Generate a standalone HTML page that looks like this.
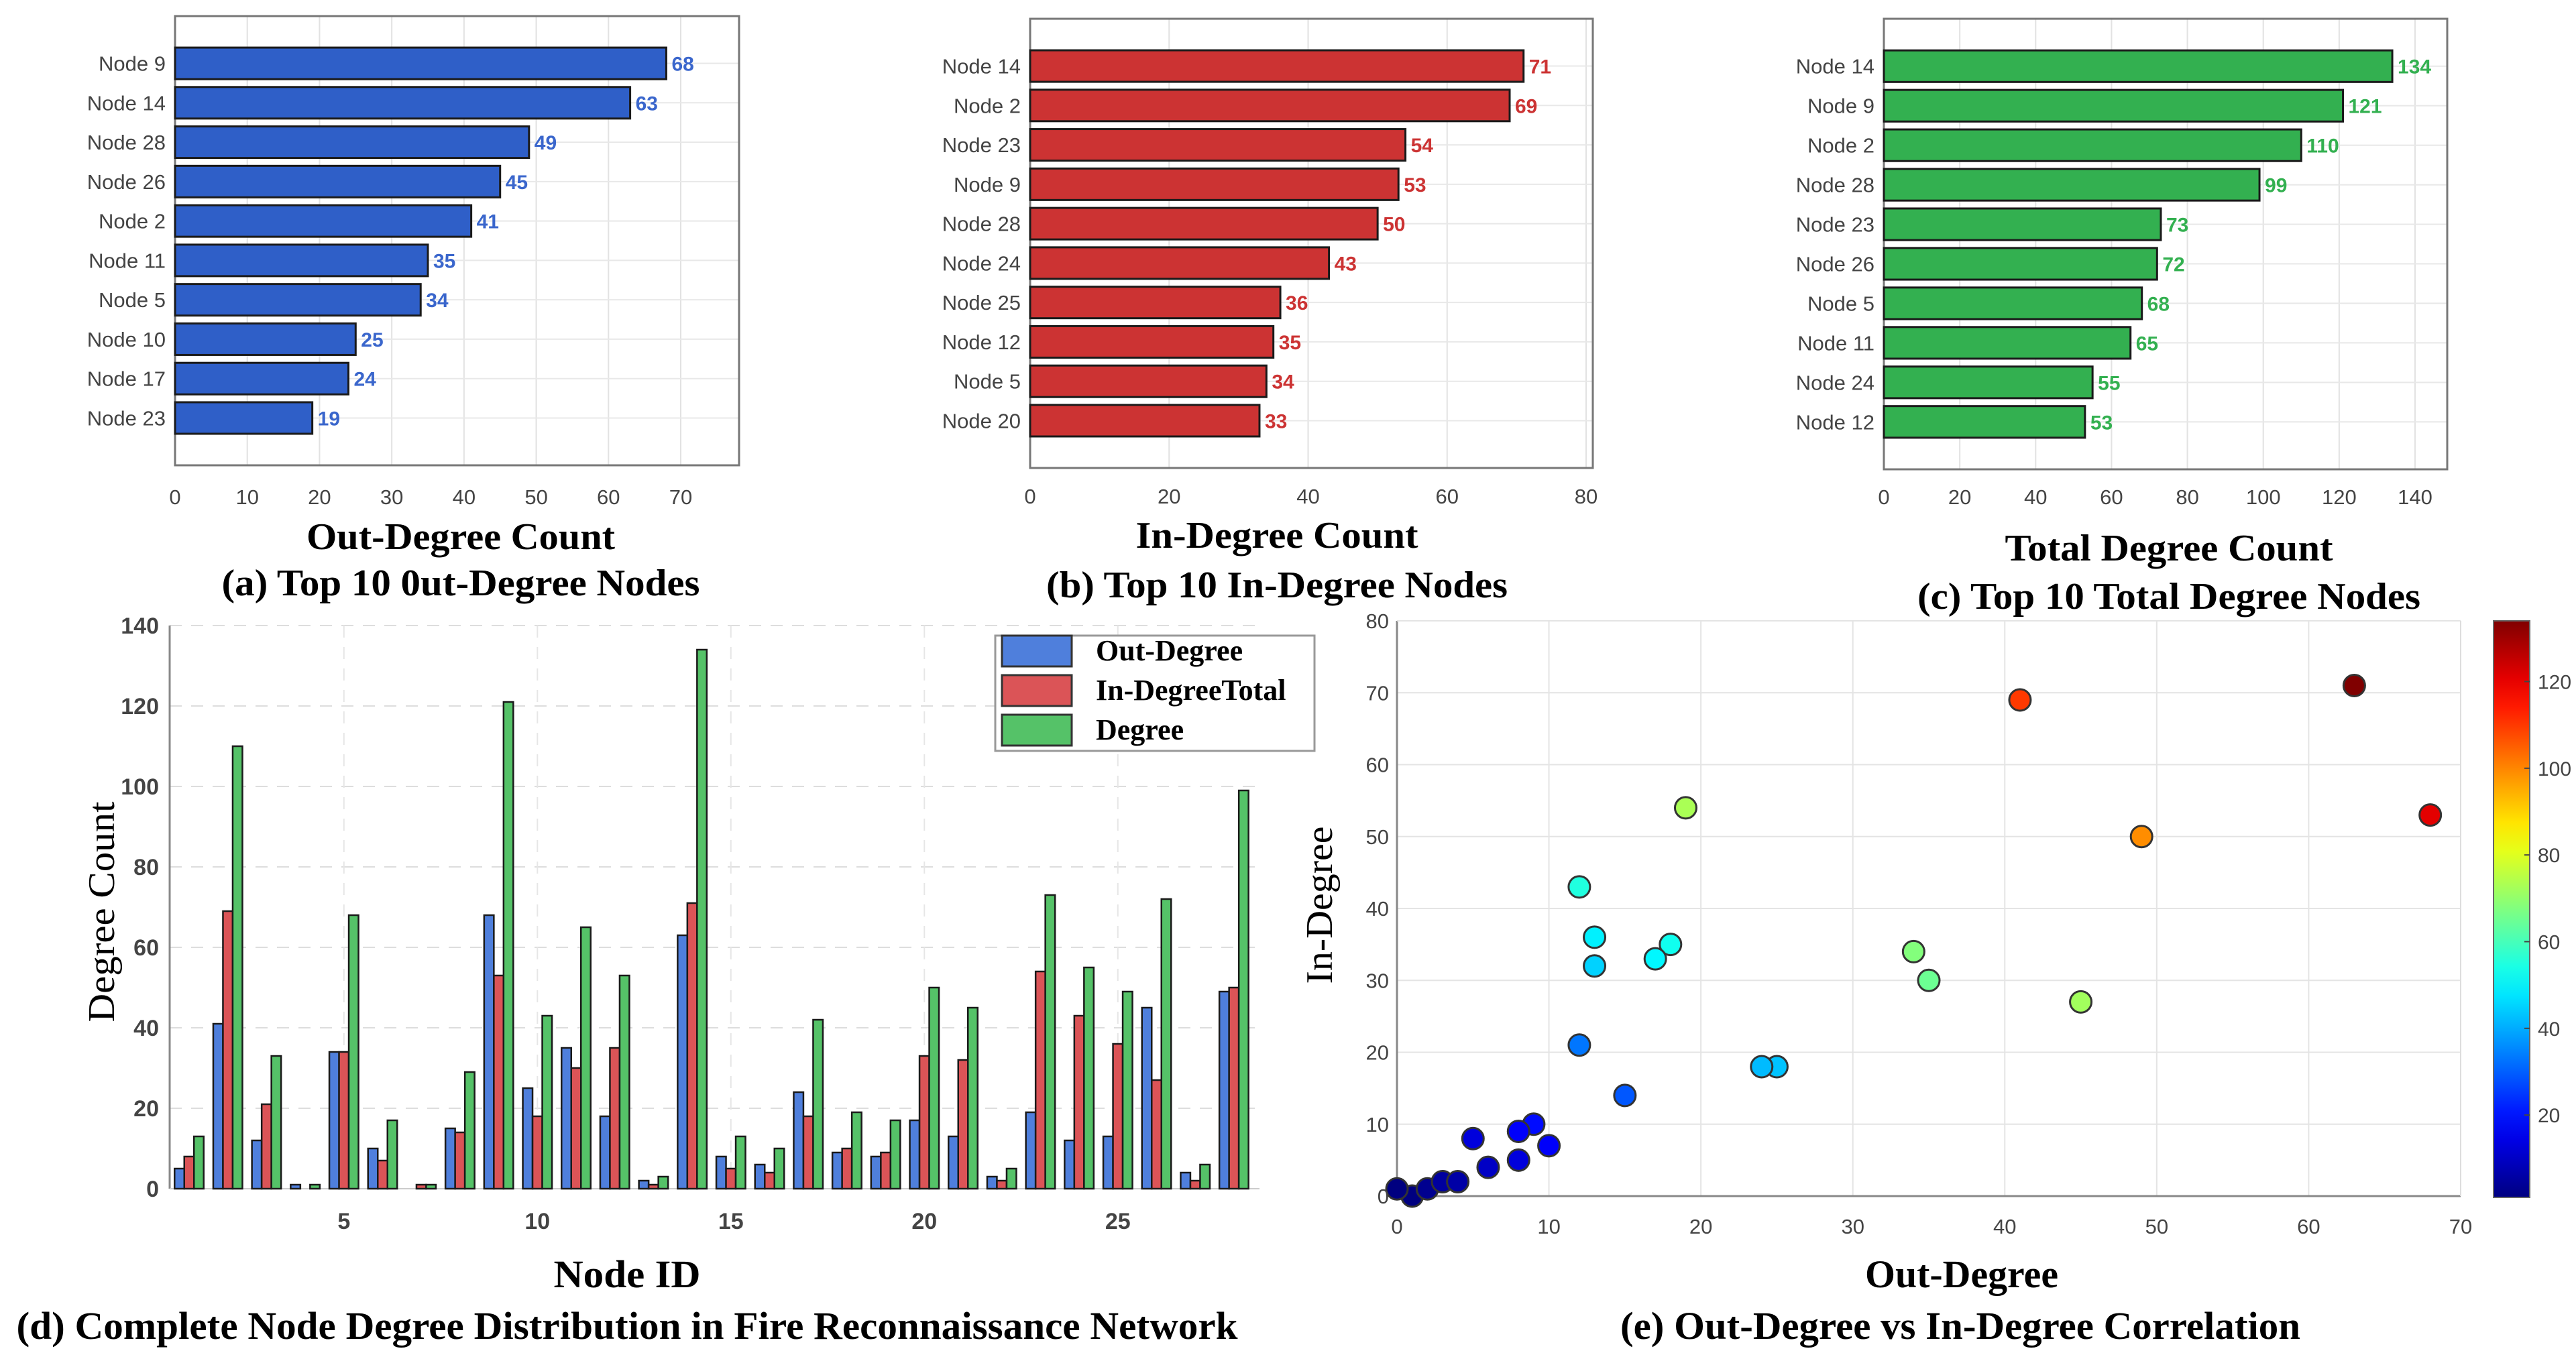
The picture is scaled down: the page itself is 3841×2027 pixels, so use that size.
<!DOCTYPE html>
<html><head><meta charset="utf-8"><style>
html,body{margin:0;padding:0;background:#fff;}
svg{display:block;}
.tk{font-family:"Liberation Sans",sans-serif;fill:#444;}
.sf{font-family:"Liberation Serif",serif;fill:#000;}
</style></head><body>
<svg id="svg" width="3841" height="2027" viewBox="0 0 3841 2027" xmlns="http://www.w3.org/2000/svg"></svg>
<script>
// ---- Panel (a) data ----
const aLabels = ["Node 9","Node 14","Node 28","Node 26","Node 2","Node 11","Node 5","Node 10","Node 17","Node 23"];
const aValues = [68,63,49,45,41,35,34,25,24,19];
const aTicks = [0,10,20,30,40,50,60,70];
// ---- Panel (b) data ----
const bLabels = ["Node 14","Node 2","Node 23","Node 9","Node 28","Node 24","Node 25","Node 12","Node 5","Node 20"];
const bValues = [71,69,54,53,50,43,36,35,34,33];
const bTicks = [0,20,40,60,80];
// ---- Panel (c) data ----
const cLabels = ["Node 14","Node 9","Node 2","Node 28","Node 23","Node 26","Node 5","Node 11","Node 24","Node 12"];
const cValues = [134,121,110,99,73,72,68,65,55,53];
const cTicks = [0,20,40,60,80,100,120,140];
// ---- Panel (d)/(e) data: nodes 1..28 ----
const nodeIds = [1,2,3,4,5,6,7,8,9,10,11,12,13,14,15,16,17,18,19,20,21,22,23,24,25,26,27,28];
const outDeg = [5,41,12,1,34,10,0,15,68,25,35,18,2,63,8,6,24,9,8,17,13,3,19,12,13,45,4,49];
const inDeg  = [8,69,21,0,34,7,1,14,53,18,30,35,1,71,5,4,18,10,9,33,32,2,54,43,36,27,2,50];
const totDeg = [13,110,33,1,68,17,1,29,121,43,65,53,3,134,13,10,42,19,17,50,45,5,73,55,49,72,6,99];
const dYTicks = [0,20,40,60,80,100,120,140];
const dXTicks = [5,10,15,20,25];
const eXTicks = [0,10,20,30,40,50,60,70];
const eYTicks = [0,10,20,30,40,50,60,70,80];
const cbTicks = [20,40,60,80,100,120];

const NS="http://www.w3.org/2000/svg";
const svg=document.getElementById('svg');
function mk(tag,attrs,parent,text){const e=document.createElementNS(NS,tag);for(const k in attrs)e.setAttribute(k,attrs[k]);if(text!==undefined)e.textContent=text;(parent||svg).appendChild(e);return e;}

function hbar(cfg){
  const g=mk('g',{});
  
  
  const L=cfg.left,R=cfg.right,T=cfg.top,B=cfg.bottom;
  const sx=v=>L+(v-0)*(cfg.x1-L)/cfg.tmax;
  const step=(B-T)/11.4;
  const cy=i=>T+(1.2+i)*step;
  mk('rect',{x:L,y:T,width:R-L,height:B-T,fill:'#fff',stroke:'none'},g);
  cfg.ticks.forEach(t=>{ if(t>0) mk('line',{x1:sx(t),x2:sx(t),y1:T,y2:B,stroke:'#e2e2e2','stroke-width':2},g);});
  cfg.labels.forEach((l,i)=>{ mk('line',{x1:L,x2:R,y1:cy(i),y2:cy(i),stroke:'#e8e8e8','stroke-width':2},g);});
  mk('rect',{x:L,y:T,width:R-L,height:B-T,fill:'none',stroke:'#777','stroke-width':3},g);
  cfg.values.forEach((v,i)=>{
    const r=mk('rect',{x:L,y:cy(i)-step*0.4,width:sx(v)-L,height:step*0.8,fill:cfg.color,stroke:'#1a1a1a','stroke-width':3},g);
    
    
    const vl=mk('text',{x:sx(v)+8,y:cy(i)+11,'font-size':30,'font-weight':'bold',fill:cfg.vcolor,'font-family':'Liberation Sans, sans-serif'},g,String(v));
    
    
    const nl=mk('text',{x:L-14,y:cy(i)+11,'font-size':31,'text-anchor':'end',class:'tk'},g,cfg.labels[i]);
    
    
  });
  cfg.ticks.forEach(t=>{
    const tl=mk('text',{x:sx(t),y:cfg.tickY,'font-size':31,'text-anchor':'middle',class:'tk'},g,String(t));
    
    
  });
  const xt=mk('text',{x:cfg.titleX,y:cfg.titleY,'font-size':56,'font-weight':'bold','text-anchor':'middle',class:'sf',textLength:cfg.titleW,lengthAdjust:'spacingAndGlyphs'},g,cfg.xtitle);
  
  
  const cp=mk('text',{x:cfg.titleX,y:cfg.capY,'font-size':56,'font-weight':'bold','text-anchor':'middle',class:'sf',textLength:cfg.capW,lengthAdjust:'spacingAndGlyphs'},g,cfg.caption);
  
  
}
hbar({name:'panel-a-out-degree',left:261,right:1102,top:24,bottom:694,x1:1015,tmax:70,labels:aLabels,values:aValues,ticks:aTicks,color:'#2f5fc8',vcolor:'#3a66cc',tickY:752,titleX:687,titleY:819,capY:888,titleW:460,capW:713,xtitle:'Out-Degree Count',caption:'(a) Top 10 0ut-Degree Nodes'});
hbar({name:'panel-b-in-degree',left:1536,right:2375,top:28,bottom:698,x1:2365,tmax:80,labels:bLabels,values:bValues,ticks:bTicks,color:'#cc3333',vcolor:'#cc3333',tickY:751,titleX:1904,titleY:817,capY:891,titleW:421,capW:688,xtitle:'In-Degree Count',caption:'(b) Top 10 In-Degree Nodes'});
hbar({name:'panel-c-total-degree',left:2809,right:3649,top:28,bottom:700,x1:3601,tmax:140,labels:cLabels,values:cValues,ticks:cTicks,color:'#33b050',vcolor:'#33b050',tickY:752,titleX:3234,titleY:836,capY:908,titleW:489,capW:750,xtitle:'Total Degree Count',caption:'(c) Top 10 Total Degree Nodes'});

// ---- Panel (d) grouped bars ----
(function(){
  const g=mk('g',{});
  
  
  const L=253,R=1878,T=933,B=1773;
  const sy=v=>B-v*(B-T)/140;
  const sx=n=>282+(n-1)*57.7;
  dYTicks.forEach(t=>{ if(t>0) mk('line',{x1:L,x2:R,y1:sy(t),y2:sy(t),stroke:'#ddd','stroke-width':2,'stroke-dasharray':'18 14'},g);});
  dXTicks.forEach(t=>{ mk('line',{x1:sx(t),x2:sx(t),y1:T,y2:B,stroke:'#e6e6e6','stroke-width':2,'stroke-dasharray':'18 14'},g);});
  mk('line',{x1:L,x2:L,y1:T,y2:B,stroke:'#888','stroke-width':3},g);
  mk('line',{x1:L,x2:R,y1:B,y2:B,stroke:'#ccc','stroke-width':2},g);
  const series=[[outDeg,'#4f7fdc'],[inDeg,'#db5457'],[totDeg,'#55c268']];
  const bw=14.5;
  nodeIds.forEach((n,i)=>{
    series.forEach((s,k)=>{
      const v=s[0][i];
      const x=sx(n)+(k-1.5)*bw;
      const r=mk('rect',{x:x,y:sy(v),width:bw,height:B-sy(v),fill:s[1],stroke:'#1a1a1a','stroke-width':2.5},g);
      
      
    });
  });
  dYTicks.forEach(t=>{
    const tl=mk('text',{x:L-16,y:sy(t)+12,'font-size':34,'font-weight':'bold','text-anchor':'end',class:'tk',fill:'#333'},g,String(t));
    
    
  });
  dXTicks.forEach(t=>{
    const tl=mk('text',{x:sx(t),y:1833,'font-size':34,'font-weight':'bold','text-anchor':'middle',class:'tk'},g,String(t));
    
    
  });
  const yl=mk('text',{x:0,y:0,'font-size':56,'text-anchor':'middle',class:'sf',transform:'translate(170,1360) rotate(-90)',textLength:329,lengthAdjust:'spacingAndGlyphs'},g,'Degree Count');
  
  
  const xl=mk('text',{x:935,y:1920,'font-size':58,'font-weight':'bold','text-anchor':'middle',class:'sf','xml:space':'preserve',textLength:219,lengthAdjust:'spacingAndGlyphs'},g,'Node  ID');
  
  
  const cp=mk('text',{x:935,y:1997,'font-size':58,'font-weight':'bold','text-anchor':'middle',class:'sf',textLength:1821,lengthAdjust:'spacingAndGlyphs'},g,'(d) Complete Node Degree Distribution in Fire Reconnaissance Network');
  
  
  // legend
  const lg=mk('g',{},g);
  
  
  mk('rect',{x:1484,y:948,width:476,height:172,fill:'#fff',stroke:'#999','stroke-width':3},lg);
  const names=['Out-Degree','In-DegreeTotal','Degree'];
  series.forEach((s,k)=>{
    const y=970+k*59;
    const sw=mk('rect',{x:1494,y:y-22,width:104,height:46,fill:s[1],stroke:'#333','stroke-width':3},lg);
    
    
    const t=mk('text',{x:1634,y:y+15,'font-size':44,'font-weight':'bold',class:'sf'},lg,names[k]);
    
    
  });
})();

// ---- Panel (e) scatter ----
function jet(t){t=Math.max(0,Math.min(1,t));
  const r=Math.max(0,Math.min(1,Math.min(4*t-1.5,-4*t+4.5)));
  const g=Math.max(0,Math.min(1,Math.min(4*t-0.5,-4*t+3.5)));
  const b=Math.max(0,Math.min(1,Math.min(4*t+0.5,-4*t+2.5)));
  return 'rgb('+Math.round(r*255)+','+Math.round(g*255)+','+Math.round(b*255)+')';}
(function(){
  const g=mk('g',{});
  
  
  const L=2083,R=3669,T=926,B=1784;
  const sx=v=>L+v*(R-L)/70;
  const sy=v=>B-v*(B-T)/80;
  eXTicks.forEach(t=>{ if(t>0) mk('line',{x1:sx(t),x2:sx(t),y1:T,y2:B,stroke:'#e4e4e4','stroke-width':2},g);});
  eYTicks.forEach(t=>{ if(t>0) mk('line',{x1:L,x2:R,y1:sy(t),y2:sy(t),stroke:'#e4e4e4','stroke-width':2},g);});
  mk('line',{x1:L,x2:L,y1:T,y2:B,stroke:'#888','stroke-width':3},g);
  mk('line',{x1:L,x2:R,y1:B,y2:B,stroke:'#888','stroke-width':3},g);
  mk('line',{x1:L,x2:R,y1:T,y2:T,stroke:'#e4e4e4','stroke-width':2},g);
  mk('line',{x1:R,x2:R,y1:T,y2:B,stroke:'#ddd','stroke-width':2},g);
  const cmin=1,cmax=134;
  nodeIds.forEach((n,i)=>{
    const c=mk('circle',{cx:sx(outDeg[i]),cy:sy(inDeg[i]),r:16,fill:jet((totDeg[i]-cmin)/(cmax-cmin)),stroke:'#333','stroke-width':3},g);
    
    
  });
  eXTicks.forEach(t=>{
    const tl=mk('text',{x:sx(t),y:1840,'font-size':31,'text-anchor':'middle',class:'tk'},g,String(t));
    
    
  });
  eYTicks.forEach(t=>{
    const tl=mk('text',{x:L-12,y:sy(t)+11,'font-size':31,'text-anchor':'end',class:'tk'},g,String(t));
    
    
  });
  const yl=mk('text',{x:0,y:0,'font-size':56,'text-anchor':'middle',class:'sf',transform:'translate(1986,1350) rotate(-90)',textLength:235,lengthAdjust:'spacingAndGlyphs'},g,'In-Degree');
  
  
  const xl=mk('text',{x:2925,y:1920,'font-size':58,'font-weight':'bold','text-anchor':'middle',class:'sf',textLength:288,lengthAdjust:'spacingAndGlyphs'},g,'Out-Degree');
  
  
  const cp=mk('text',{x:2923,y:1997,'font-size':58,'font-weight':'bold','text-anchor':'middle',class:'sf',textLength:1014,lengthAdjust:'spacingAndGlyphs'},g,'(e) Out-Degree vs In-Degree Correlation');
  
  
  // colorbar
  const cb=mk('g',{},g);
  
  
  const defs=mk('defs',{},cb);
  const lgd=mk('linearGradient',{id:'jetg',x1:0,y1:1,x2:0,y2:0},defs);
  for(let k=0;k<=20;k++){mk('stop',{offset:(k/20),'stop-color':jet(k/20)},lgd);}
  const CT=926,CB=1786,CL=3718,CR=3772;
  mk('rect',{x:CL,y:CT,width:CR-CL,height:CB-CT,fill:'url(#jetg)',stroke:'#666','stroke-width':2},cb);
  const cy=v=>CB-(v-cmin)*(CB-CT)/(cmax-cmin);
  cbTicks.forEach(t=>{
    mk('line',{x1:CR-8,x2:CR,y1:cy(t),y2:cy(t),stroke:'#444','stroke-width':2},cb);
    const tl=mk('text',{x:CR+12,y:cy(t)+11,'font-size':30,class:'tk'},cb,String(t));
    
    
  });
})();
</script>
</body></html>
